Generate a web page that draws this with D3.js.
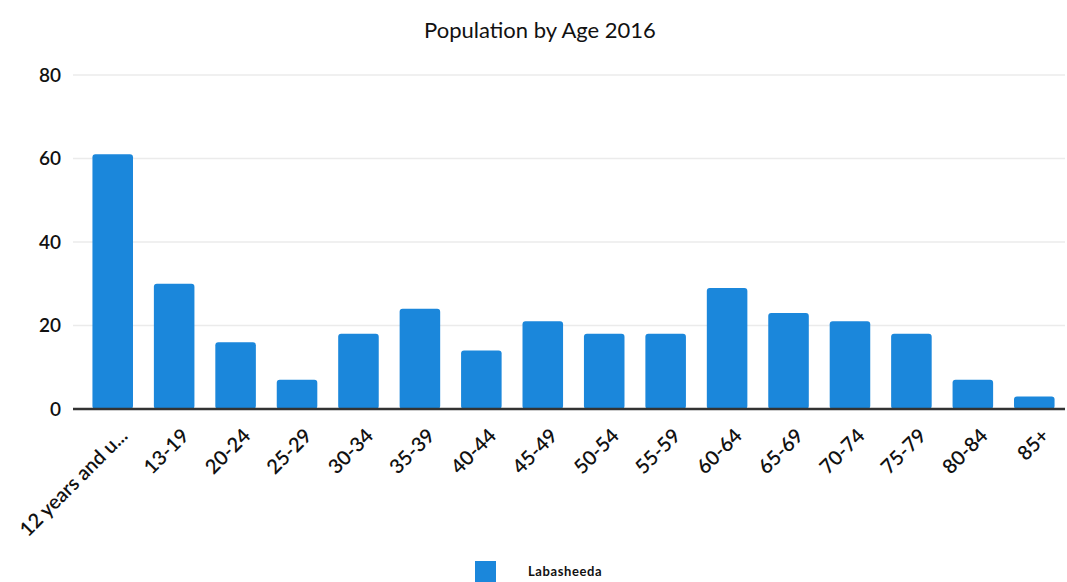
<!DOCTYPE html>
<html><head><meta charset="utf-8">
<script src="https://cdn.jsdelivr.net/npm/d3@7"></script>
<style>body{margin:0;background:#fff}svg{display:block}</style>
</head><body>
<svg id="c" width="1067" height="582"></svg>
<script>
const categories = ["12 years and u...","13-19","20-24","25-29","30-34","35-39","40-44","45-49","50-54","55-59","60-64","65-69","70-74","75-79","80-84","85+"];
const values = [61,30,16,7,18,24,14,21,18,18,29,23,21,18,7,3];
const yTicks = [0,20,40,60,80];
const seriesName = "Labasheeda";
const title = "Population by Age 2016";

const svg = d3.select("#c");
const font = "Lato, 'Open Sans', sans-serif";
const x = d3.scaleBand().domain(categories).range([82,1065]).paddingInner(0.34).paddingOuter(0.17);
const y = d3.scaleLinear().domain([0,80]).range([409,75]);

svg.append("text").attr("x",540).attr("y",38).attr("text-anchor","middle")
  .style("font-family",font).style("font-size","22px").attr("fill","#111").text(title);

// gridlines
svg.append("g").selectAll("line").data(yTicks.filter(d=>d>0)).join("line")
  .attr("x1",73).attr("x2",1065).attr("y1",d=>y(d)).attr("y2",d=>y(d))
  .attr("stroke","#ebebeb").attr("stroke-width",1.5);

// y axis labels
const ya = svg.append("g").attr("transform","translate(61,0)")
  .call(d3.axisLeft(y).tickValues(yTicks).tickSize(0).tickPadding(0));
ya.select(".domain").remove();
ya.selectAll("text").style("font-family",font).style("font-size","19px").style("font-weight","600").attr("fill","#111");

// bars
svg.append("g").selectAll("rect").data(values).join("rect")
  .attr("x",(d,i)=>x(categories[i])).attr("width",x.bandwidth())
  .attr("y",d=>y(d)).attr("height",d=>y(0)-y(d))
  .attr("rx",3).attr("fill","#1b87db");

// x axis
const xa = svg.append("g").attr("transform",`translate(0,${y(0)})`)
  .call(d3.axisBottom(x).tickSize(0).tickPadding(0));
xa.select(".domain").attr("d","M73,0H1065").attr("stroke","#333").attr("stroke-width",2.5);
xa.selectAll("text").attr("text-anchor","end")
  .attr("transform","translate(6,18) rotate(-45)").attr("dy","0.71em").attr("y",0)
  .style("font-family",font).style("font-size","20px").style("font-weight","600").attr("fill","#111");

// legend
svg.append("rect").attr("x",475).attr("y",561).attr("width",21).attr("height",21).attr("fill","#1b87db");
svg.append("text").attr("x",528).attr("y",576).style("font-family",font).style("font-size","13px")
  .style("font-weight","700").style("letter-spacing","0.6px").attr("fill","#111").text(seriesName);
</script>
</body></html>
